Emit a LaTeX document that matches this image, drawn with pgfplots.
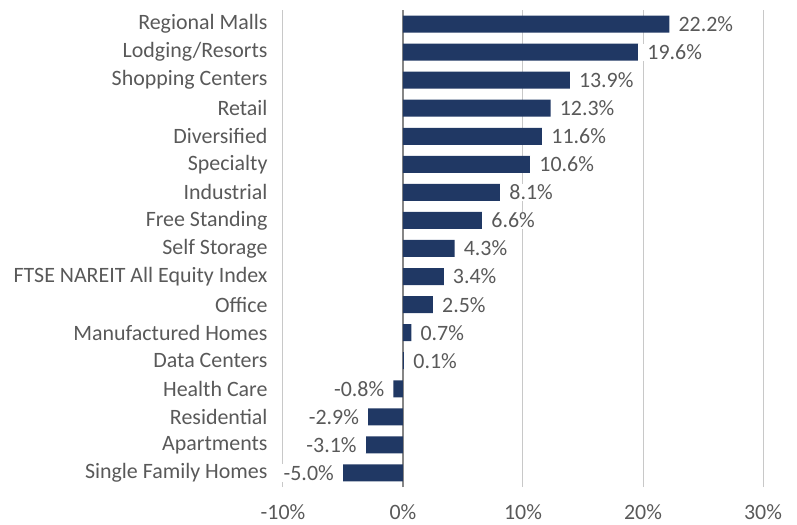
\documentclass[border=0pt]{standalone}
\usepackage{pgfplots}
\pgfplotsset{compat=1.18}
\usepackage{fontspec}
\setmainfont{Carlito}
\definecolor{barblue}{HTML}{203864}
\definecolor{txtgray}{HTML}{595959}
\definecolor{gridgray}{HTML}{C8C8C8}
\definecolor{zerogray}{HTML}{868686}
\begin{document}
\fontsize{22}{26}\selectfont
\begin{tikzpicture}
  \begin{axis}[
    name=ax,
    xbar, bar width=17bp,
    scale only axis,
    width=480bp, height=477bp,
    xmin=-10, xmax=30,
    ymin=-0.5, ymax=16.5,
    xtick={-10,0,10,20,30},
    ytick={0,...,16},
    yticklabels={Single Family Homes,Apartments,Residential,Health Care,Data Centers,Manufactured Homes,Office,FTSE NAREIT All Equity Index,Self Storage,Free Standing,Industrial,Specialty,Diversified,Retail,Shopping Centers,Lodging/Resorts,Regional Malls},
    xticklabel={\pgfmathprintnumber{\tick}\%},
    /pgf/number format/assume math mode=true,
    axis line style={draw=none},
    major tick length=0pt,
    xmajorgrids=true,
    grid style={gridgray, line width=1bp},
    extra x ticks={0},
    extra x tick labels={},
    extra x tick style={grid style={zerogray, line width=1.5bp}},
    xticklabel style={text=txtgray, yshift=-10bp},
    yticklabel style={text=txtgray, xshift=-8bp},
    nodes near coords={\pgfmathprintnumber[fixed, fixed zerofill, precision=1]{\pgfplotspointmeta}\%},
    point meta=x,
    nodes near coords align=horizontal,
    every node near coord/.append style={text=txtgray, fill=white, inner xsep=9bp, inner ysep=1bp},
    clip=false,
  ]
    \addplot[fill=barblue, draw=none] coordinates {
      (-5.0,0) (-3.1,1) (-2.9,2) (-0.8,3) (0.1,4) (0.7,5) (2.5,6) (3.4,7)
      (4.3,8) (6.6,9) (8.1,10) (10.6,11) (11.6,12) (12.3,13) (13.9,14)
      (19.6,15) (22.2,16)
    };
  \end{axis}
  \pgfresetboundingbox
  \path (ax.south west) ++(-283bp,-38bp) coordinate (bl);
  \path (ax.north east) ++(34bp,10bp) coordinate (tr);
  \path (bl) rectangle (tr);
\end{tikzpicture}
\end{document}
